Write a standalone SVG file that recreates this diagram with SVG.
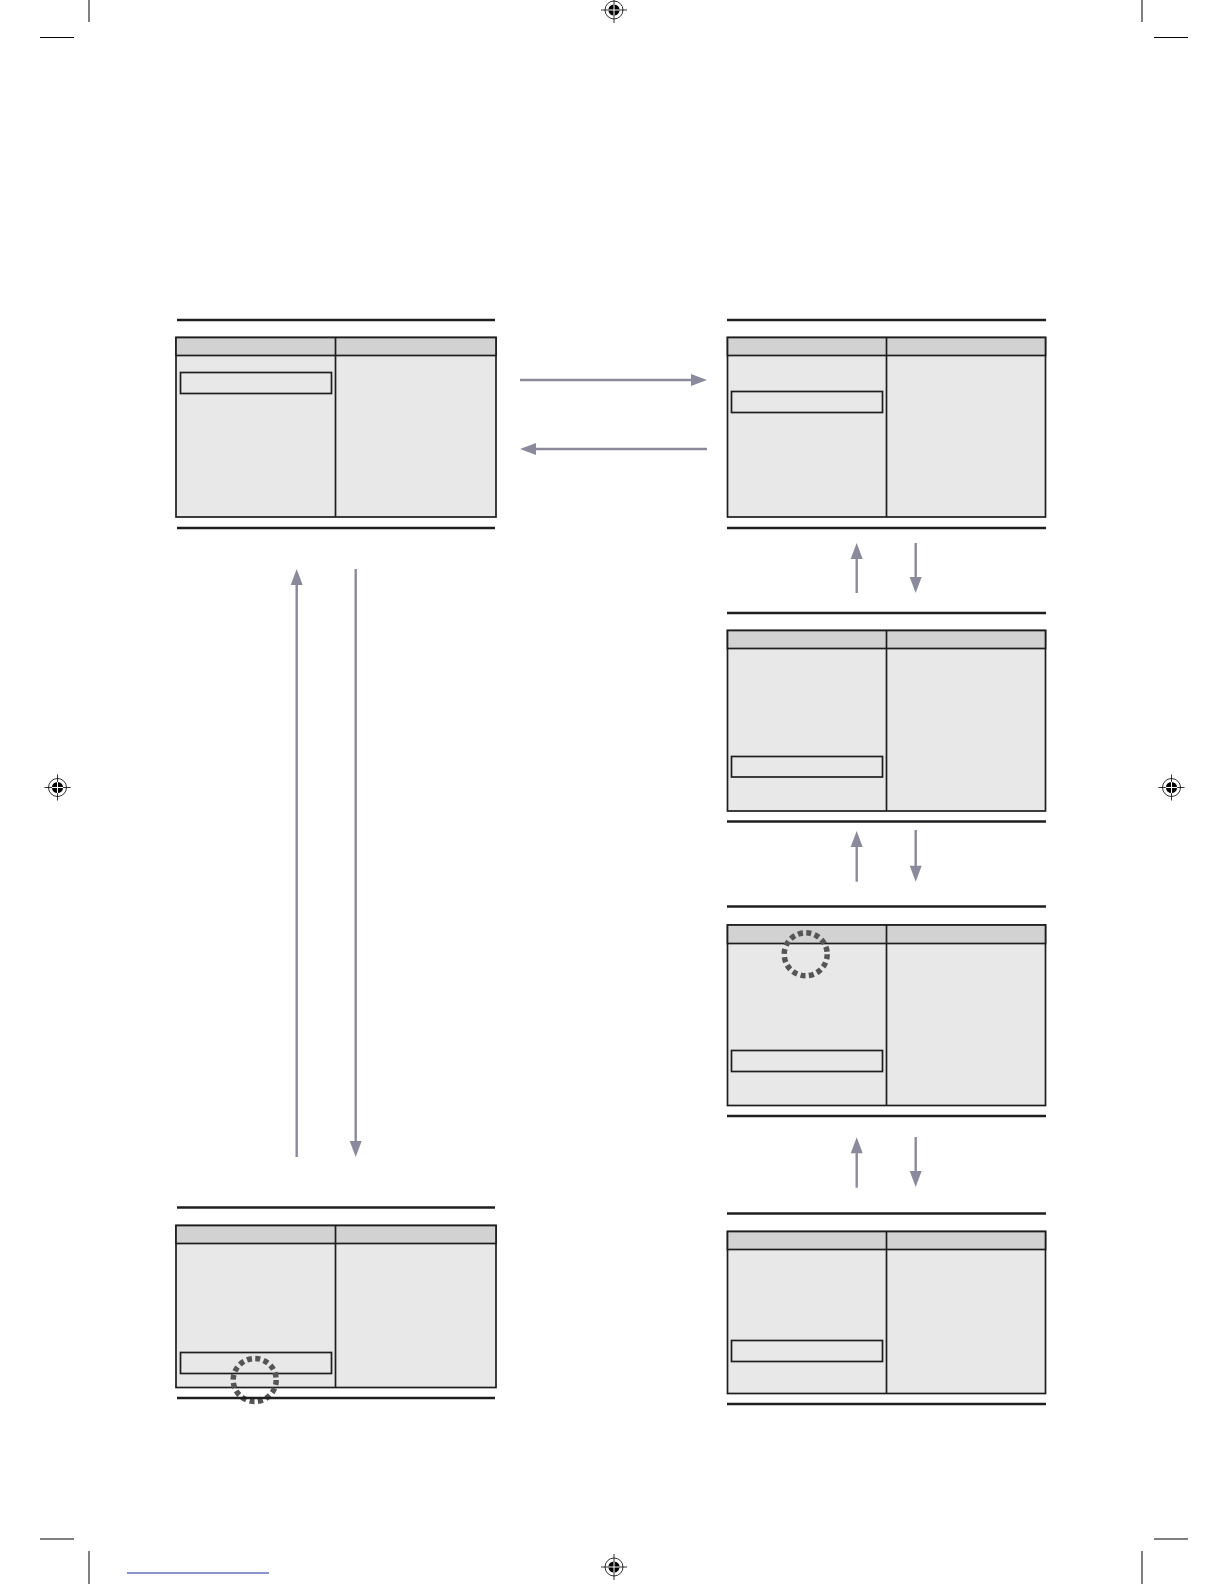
<svg xmlns="http://www.w3.org/2000/svg" width="1224" height="1584" viewBox="0 0 1224 1584">
<style>
.rule{stroke:#1e1e1e;stroke-width:2.6;fill:none}
.box{fill:#e8e8e8;stroke:#1e1e1e;stroke-width:1.7}
.hdr{fill:#d2d2d2;stroke:#1e1e1e;stroke-width:1.7}
.div{stroke:#1e1e1e;stroke-width:1.7}
.hl{fill:none;stroke:#1e1e1e;stroke-width:1.7}
.ring{fill:none;stroke:#555;stroke-width:5.5;stroke-dasharray:5 3.44}
.arr{stroke:#8a8a9c;stroke-width:2.4;fill:none}
.head{fill:#8a8a9c}
.crop{stroke:#000;stroke-width:1;fill:none}
.reg{stroke:#000;stroke-width:0.8;fill:none}
</style>
<defs>
<g id="regmark">
<circle r="9" class="reg"/>
<circle r="5.6" fill="#000"/>
<line x1="-13" y1="0" x2="13" y2="0" class="reg"/>
<line x1="0" y1="-13" x2="0" y2="13" class="reg"/>
<line x1="-5.6" y1="0" x2="5.6" y2="0" stroke="#fff" stroke-width="1"/>
<line x1="0" y1="-5.6" x2="0" y2="5.6" stroke="#fff" stroke-width="1"/>
</g>
</defs>
<rect width="1224" height="1584" fill="#fff"/>
<g id="printmarks">
<line x1="89" y1="0" x2="89" y2="22" class="crop"/>
<line x1="40" y1="37.5" x2="74" y2="37.5" class="crop"/>
<line x1="1142" y1="0" x2="1142" y2="22" class="crop"/>
<line x1="1154" y1="37.5" x2="1188" y2="37.5" class="crop"/>
<line x1="40" y1="1539" x2="74" y2="1539" class="crop"/>
<line x1="1154" y1="1539" x2="1188" y2="1539" class="crop"/>
<line x1="89" y1="1551" x2="89" y2="1584" class="crop"/>
<line x1="1142" y1="1551" x2="1142" y2="1584" class="crop"/>
<use href="#regmark" x="614" y="10"/>
<use href="#regmark" x="57.5" y="787.5"/>
<use href="#regmark" x="1171.5" y="787.5"/>
<use href="#regmark" x="614" y="1567"/>
<line x1="127" y1="1573" x2="269" y2="1573" stroke="#1a2a99" stroke-width="1.2"/>
</g>
<g id="panel1">
<line x1="177" y1="320" x2="495" y2="320" class="rule"/>
<rect x="176" y="337.5" width="320" height="179.5" class="box"/>
<rect x="176" y="337.5" width="320" height="18" class="hdr"/>
<line x1="335.5" y1="337.5" x2="335.5" y2="517" class="div"/>
<rect x="180.5" y="372.5" width="151" height="21" class="hl"/>
<line x1="177" y1="528" x2="495" y2="528" class="rule"/>
</g>
<g id="panel2">
<line x1="727" y1="320" x2="1046" y2="320" class="rule"/>
<rect x="727.5" y="337.5" width="318" height="179.5" class="box"/>
<rect x="727.5" y="337.5" width="318" height="18" class="hdr"/>
<line x1="886.5" y1="337.5" x2="886.5" y2="517" class="div"/>
<rect x="731.5" y="391.5" width="151" height="21" class="hl"/>
<line x1="727" y1="528" x2="1046" y2="528" class="rule"/>
</g>
<g id="panel3">
<line x1="727" y1="613" x2="1046" y2="613" class="rule"/>
<rect x="727.5" y="630.5" width="318" height="180.5" class="box"/>
<rect x="727.5" y="630.5" width="318" height="18" class="hdr"/>
<line x1="886.5" y1="630.5" x2="886.5" y2="811" class="div"/>
<rect x="731.5" y="756.5" width="151" height="20.5" class="hl"/>
<line x1="727" y1="821.5" x2="1046" y2="821.5" class="rule"/>
</g>
<g id="panel4">
<line x1="727" y1="906.5" x2="1046" y2="906.5" class="rule"/>
<rect x="727.5" y="925" width="318" height="180.5" class="box"/>
<rect x="727.5" y="925" width="318" height="18.5" class="hdr"/>
<line x1="886.5" y1="925" x2="886.5" y2="1105.5" class="div"/>
<rect x="731.5" y="1050.5" width="151" height="21" class="hl"/>
<circle cx="805.7" cy="954.3" r="21.5" class="ring"/>
<line x1="727" y1="1116" x2="1046" y2="1116" class="rule"/>
</g>
<g id="panel5">
<line x1="727" y1="1213.5" x2="1046" y2="1213.5" class="rule"/>
<rect x="727.5" y="1231.5" width="318" height="162" class="box"/>
<rect x="727.5" y="1231.5" width="318" height="18" class="hdr"/>
<line x1="886.5" y1="1231.5" x2="886.5" y2="1393.5" class="div"/>
<rect x="731.5" y="1340.5" width="151" height="21" class="hl"/>
<line x1="727" y1="1404" x2="1046" y2="1404" class="rule"/>
</g>
<g id="panel6">
<line x1="177" y1="1207.5" x2="495" y2="1207.5" class="rule"/>
<rect x="176" y="1225.5" width="320" height="162" class="box"/>
<rect x="176" y="1225.5" width="320" height="18" class="hdr"/>
<line x1="335.5" y1="1225.5" x2="335.5" y2="1387.5" class="div"/>
<rect x="180.5" y="1352.5" width="151" height="21" class="hl"/>
<circle cx="254.7" cy="1380" r="21.5" class="ring"/>
<line x1="177" y1="1398" x2="495" y2="1398" class="rule"/>
</g>
<g id="connectors">
<line x1="520" y1="380" x2="694" y2="380" class="arr"/>
<polygon points="707,380 691,374 691,386" class="head"/>
<line x1="707" y1="449" x2="533" y2="449" class="arr"/>
<polygon points="520,449 536,443 536,455" class="head"/>
<line x1="856.7" y1="593" x2="856.7" y2="556" class="arr"/>
<polygon points="856.7,543 850.7,559 862.7,559" class="head"/>
<line x1="915.7" y1="543" x2="915.7" y2="580" class="arr"/>
<polygon points="915.7,593 909.7,577 921.7,577" class="head"/>
<line x1="856.7" y1="881.7" x2="856.7" y2="844" class="arr"/>
<polygon points="856.7,831 850.7,847 862.7,847" class="head"/>
<line x1="915.7" y1="830" x2="915.7" y2="869" class="arr"/>
<polygon points="915.7,881.7 909.7,865.7 921.7,865.7" class="head"/>
<line x1="856.7" y1="1187.7" x2="856.7" y2="1150" class="arr"/>
<polygon points="856.7,1137.3 850.7,1153.3 862.7,1153.3" class="head"/>
<line x1="915.7" y1="1137" x2="915.7" y2="1174" class="arr"/>
<polygon points="915.7,1187 909.7,1171 921.7,1171" class="head"/>
<line x1="296.7" y1="1157" x2="296.7" y2="582" class="arr"/>
<polygon points="296.7,569 290.7,585 302.7,585" class="head"/>
<line x1="355.7" y1="569" x2="355.7" y2="1144" class="arr"/>
<polygon points="355.7,1157 349.7,1141 361.7,1141" class="head"/>
</g>
</svg>
